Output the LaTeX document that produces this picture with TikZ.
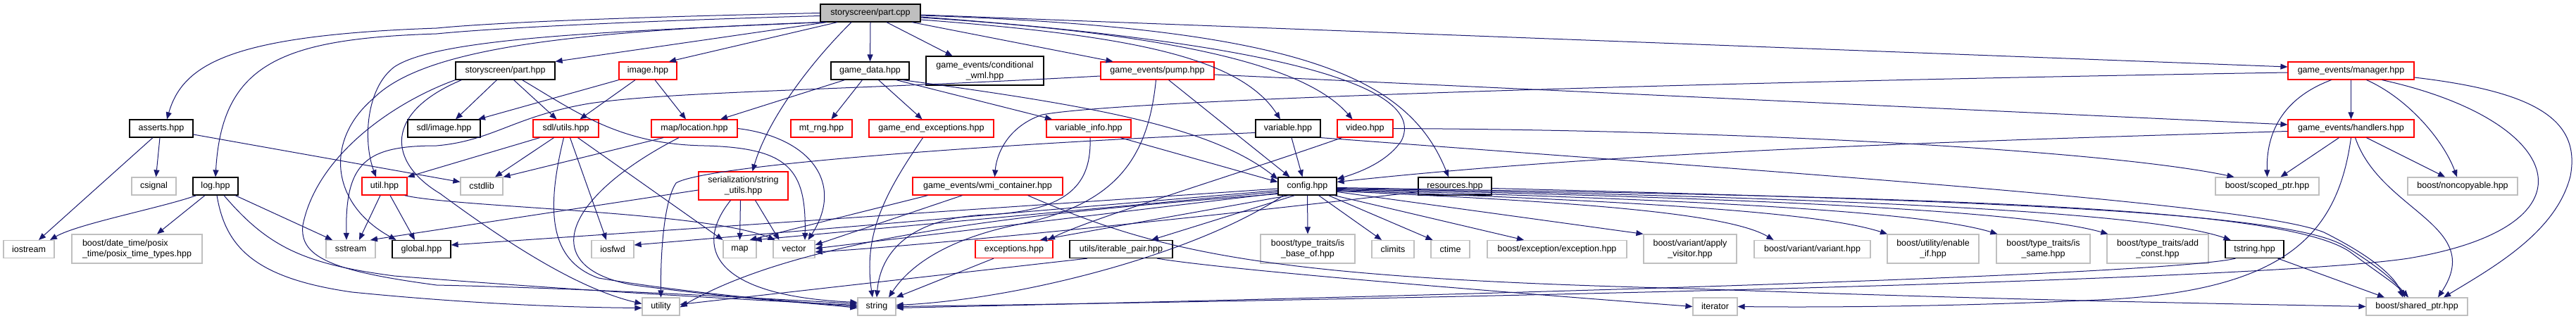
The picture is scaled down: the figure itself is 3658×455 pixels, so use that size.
\documentclass[tikz,border=0pt]{standalone}
\usepackage{fontspec}
\setmainfont{Liberation Sans}
\usetikzlibrary{arrows.meta}
\definecolor{edgec}{HTML}{191970}
\definecolor{nodegray}{HTML}{BFBFBF}
\begin{document}
\begin{tikzpicture}[x=1pt,y=-1pt,
  hbox/.style={rectangle, inner sep=0pt, minimum height=25pt, line width=1.2pt, font=\fontsize{12.5}{15}\selectfont, text=black},
  bk/.style={hbox, draw=black},
  rd/.style={hbox, draw=red},
  gy/.style={hbox, draw=nodegray},
  two/.style={minimum height=41pt, align=center},
  dep/.style={draw=edgec, line width=1pt, -{Triangle[length=10pt,width=8pt]}}
]
\fill[white] (0,0) rectangle (3658,455);
\useasboundingbox (0,0) rectangle (3658,455);

% row 0
\node[bk, fill=nodegray, minimum width=142pt] (root) at (1236,18.5) {storyscreen/part.cpp};
% row 1
\node[bk, minimum width=141pt] (sph) at (717.5,100.5) {storyscreen/part.hpp};
\node[rd, minimum width=82pt] (img) at (920,100.5) {image.hpp};
\node[bk, minimum width=111pt] (gd) at (1235.5,100.5) {game\_data.hpp};
\node[bk, two, minimum width=167pt] (cw) at (1398.5,100.5) {game\_events/conditional\\\_wml.hpp};
\node[rd, minimum width=161pt] (pump) at (1643.5,100.5) {game\_events/pump.hpp};
\node[rd, minimum width=179pt] (mgr) at (3338.5,100.5) {game\_events/manager.hpp};
% row 2
\node[bk, minimum width=90pt] (assets) at (229,182.5) {asserts.hpp};
\node[bk, minimum width=103pt] (sdlimg) at (630.5,182.5) {sdl/image.hpp};
\node[rd, minimum width=93pt] (sdlut) at (803.5,182.5) {sdl/utils.hpp};
\node[rd, minimum width=122pt] (loc) at (986,182.5) {map/location.hpp};
\node[rd, minimum width=87pt] (rng) at (1166.5,182.5) {mt\_rng.hpp};
\node[rd, minimum width=177pt] (gee) at (1322.5,182.5) {game\_end\_exceptions.hpp};
\node[rd, minimum width=120pt] (vinfo) at (1546,182.5) {variable\_info.hpp};
\node[bk, minimum width=92pt] (var) at (1829,182.5) {variable.hpp};
\node[rd, minimum width=79pt] (video) at (1938.5,182.5) {video.hpp};
\node[rd, minimum width=179pt] (hdl) at (3338.5,182.5) {game\_events/handlers.hpp};
% row 3
\node[gy, minimum width=63pt] (csignal) at (218.5,264.5) {csignal};
\node[bk, minimum width=64pt] (log) at (306,264.5) {log.hpp};
\node[rd, minimum width=64pt] (util) at (546,264.5) {util.hpp};
\node[gy, minimum width=60pt] (cstdlib) at (684,264.5) {cstdlib};
\node[rd, two, minimum width=127pt, minimum height=40pt] (su) at (1055.5,264) {serialization/string\\\_utils.hpp};
\node[rd, minimum width=213pt] (wmi) at (1402.5,264.5) {game\_events/wmi\_container.hpp};
\node[bk, minimum width=83pt] (config) at (1856.5,264.5) {config.hpp};
\node[bk, minimum width=104pt] (res) at (2066,264.5) {resources.hpp};
\node[gy, minimum width=147pt] (scoped) at (3219.5,264.5) {boost/scoped\_ptr.hpp};
\node[gy, minimum width=156pt] (noncopy) at (3497,264.5) {boost/noncopyable.hpp};
% row 4
\node[gy, minimum width=72pt] (iostream) at (41,354) {iostream};
\node[gy, minimum width=185pt, minimum height=41pt, align=left] (datetime) at (194.5,353.5) {boost/date\_time/posix\\\_time/posix\_time\_types.hpp};
\node[gy, minimum width=70pt] (sstream) at (498,354) {sstream};
\node[bk, minimum width=83pt] (global) at (598.5,354) {global.hpp};
\node[gy, minimum width=60pt] (iosfwd) at (870,354) {iosfwd};
\node[gy, minimum width=47pt] (map) at (1050.5,354) {map};
\node[gy, minimum width=59pt] (vector) at (1127.5,354) {vector};
\node[rd, minimum width=110pt] (exc) at (1440,354) {exceptions.hpp};
\node[bk, minimum width=146pt] (iter) at (1592,354) {utils/iterable\_pair.hpp};
\node[gy, two, minimum width=134pt] (isbase) at (1857,353.5) {boost/type\_traits/is\\\_base\_of.hpp};
\node[gy, minimum width=60pt] (climits) at (1978,354) {climits};
\node[gy, minimum width=55pt] (ctime) at (2059.5,354) {ctime};
\node[gy, minimum width=198pt] (bexc) at (2211,354) {boost/exception/exception.hpp};
\node[gy, two, minimum width=132pt] (apply) at (2400,353.5) {boost/variant/apply\\\_visitor.hpp};
\node[gy, minimum width=165pt] (variant) at (2573.5,354) {boost/variant/variant.hpp};
\node[gy, two, minimum width=130pt] (enable) at (2745,353.5) {boost/utility/enable\\\_if.hpp};
\node[gy, two, minimum width=133pt] (issame) at (2901.5,353.5) {boost/type\_traits/is\\\_same.hpp};
\node[gy, two, minimum width=144pt] (addconst) at (3064,353.5) {boost/type\_traits/add\\\_const.hpp};
\node[bk, minimum width=83pt] (tstring) at (3201.5,354) {tstring.hpp};
% row 5
\node[gy, minimum width=53pt] (utility) at (938.5,435.5) {utility};
\node[gy, minimum width=54pt] (string) at (1245,435.5) {string};
\node[gy, minimum width=63pt] (iterator) at (2435.5,435.5) {iterator};
\node[gy, minimum width=144pt] (shared) at (3432,435.5) {boost/shared\_ptr.hpp};

% root
\draw[dep] (root.west) .. controls (900,24) and (700,32) .. (620,40) .. controls (330,50) and (260,90) .. ([xshift=8pt]assets.north);
\draw[dep] ([yshift=-4pt]root.west) .. controls (900,30) and (700,40) .. (620,48) .. controls (400,55) and (315,90) .. (log.north);
\draw[dep] ([xshift=-66pt]root.south) .. controls (850,45) and (620,55) .. (560,95) .. controls (520,125) and (515,200) .. ([xshift=-12pt]util.north);
\draw[dep] (root.south west) .. controls (800,45) and (600,70) .. (530,140) .. controls (460,200) and (470,290) .. ([xshift=-36pt]global.north);
\draw[dep] ([xshift=-62pt]root.south) -- (sph.north east);
\draw[dep] ([xshift=-47pt]root.south) -- ([xshift=30pt]img.north);
\draw[dep] ([xshift=-27pt]root.south) .. controls (1150,90) and (1090,170) .. ([xshift=13pt]su.north);
\draw[dep] (root.south) -- (gd.north);
\draw[dep] ([xshift=23pt]root.south) -- ([xshift=-46pt]cw.north);
\draw[dep] ([xshift=59pt]root.south) -- ([xshift=-63pt]pump.north);
\draw[dep] ([yshift=-9.5pt]root.east) .. controls (1600,50) and (1760,80) .. ([xshift=-11pt]var.north);
\draw[dep] ([yshift=-6.5pt]root.east) .. controls (1700,50) and (1860,100) .. ([xshift=-18pt]video.north);
\draw[dep] ([yshift=-5.5pt]root.east) .. controls (1800,60) and (2030,120) .. (1990,200) .. controls (1970,230) and (1930,245) .. ([yshift=10pt]config.east);
\draw[dep] ([yshift=-3.5pt]root.east) .. controls (1850,40) and (2000,110) .. ([xshift=-9pt]res.north);
\draw[dep] ([yshift=-2.5pt]root.east) -- ([yshift=5.5pt]mgr.west);

% storyscreen/part.hpp
\draw[dep] ([xshift=-12pt]sph.south) -- ([xshift=16.5pt]sdlimg.north);
\draw[dep] ([xshift=12pt]sph.south) -- ([xshift=-13pt]sdlut.north);
\draw[dep] ([xshift=24pt]sph.south) .. controls (820,160) and (880,205) .. (1000,207) .. controls (1120,210) and (1145,240) .. ([xshift=15.5pt]vector.north);
\draw[dep] (sph.south west) .. controls (560,145) and (450,220) .. (430,320) .. controls (425,365) and (470,385) .. (620,405) .. controls (850,410) and (1100,425) .. ([yshift=4pt]string.west);
\draw[dep] ([xshift=-62pt]sph.south) .. controls (545,160) and (550,230) .. (625,275) .. controls (720,345) and (820,410) .. ([yshift=4pt]utility.west);

% image.hpp
\draw[dep] (img.south west) -- ([xshift=48.5pt]sdlimg.north);
\draw[dep] ([xshift=-18pt]img.south) -- ([xshift=20pt]sdlut.north);
\draw[dep] ([xshift=10pt]img.south) -- ([xshift=-12pt]loc.north);

% game_data.hpp
\draw[dep] ([xshift=-36pt]gd.south) -- ([xshift=37pt]loc.north);
\draw[dep] ([xshift=-11pt]gd.south) -- ([xshift=14pt]rng.north);
\draw[dep] ([xshift=12pt]gd.south) -- ([xshift=-13pt]gee.north);
\draw[dep] ([xshift=37pt]gd.south) -- ([xshift=-52pt]vinfo.north);
\draw[dep] ([xshift=46pt]gd.south) .. controls (1550,150) and (1720,180) .. ([yshift=10pt]config.west);

% pump.hpp
\draw[dep] ([yshift=-7.5pt]pump.west) .. controls (1200,128) and (950,130) .. (837,147) .. controls (730,165) and (700,200) .. (620,207) .. controls (520,207) and (490,230) .. ([xshift=-6pt]sstream.north);
\draw[dep] ([xshift=16pt]pump.south) -- ([xshift=-25pt]config.north);
\draw[dep] ([xshift=-2pt]pump.south) .. controls (1630,230) and (1580,290) .. (1450,318) .. controls (1340,340) and (1290,380) .. ([xshift=17pt]string.north);
\draw[dep] ([yshift=-5.5pt]pump.east) -- ([yshift=5.5pt]hdl.west);

% manager.hpp
\draw[dep] (mgr) -- (hdl);
\draw[dep] ([xshift=-28pt]mgr.south) .. controls (3240,140) and (3218,190) .. (scoped.north);
\draw[dep] ([xshift=22pt]mgr.south) .. controls (3420,140) and (3470,200) .. ([xshift=-8pt]noncopy.north);
\draw[dep] ([yshift=-9.5pt]mgr.east) .. controls (3600,130) and (3665,170) .. (3650,250) .. controls (3630,330) and (3540,380) .. ([xshift=38pt]shared.north);
\draw[dep] ([xshift=44pt]mgr.south) .. controls (3640,170) and (3700,320) .. (3420,367) .. controls (3200,400) and (2000,425) .. (string.east);
\draw[dep] ([yshift=-2.5pt]mgr.west) .. controls (2500,115) and (1600,140) .. (1480,163) .. controls (1430,180) and (1415,220) .. ([xshift=10pt]wmi.north);

% handlers.hpp
\draw[dep] ([yshift=-4pt]hdl.west) .. controls (2800,200) and (2300,215) .. ([yshift=6pt]config.east);
\draw[dep] ([xshift=-17pt]hdl.south) -- ([xshift=19pt]scoped.north);
\draw[dep] ([xshift=22pt]hdl.south) -- ([xshift=-25pt]noncopy.north);
\draw[dep] ([xshift=6pt]hdl.south) .. controls (3380,300) and (3530,320) .. ([xshift=30pt]shared.north);
\draw[dep] (hdl.south) .. controls (3320,330) and (3250,410) .. (3000,425) .. controls (2800,435) and (2600,437) .. (iterator.east);

% asserts.hpp
\draw[dep] ([xshift=-12pt]assets.south) -- ([xshift=14pt]iostream.north);
\draw[dep] ([xshift=-2pt]assets.south) -- ([xshift=3pt]csignal.north);
\draw[dep] ([yshift=-8.5pt]assets.east) -- ([yshift=6pt]cstdlib.west);

% log.hpp
\draw[dep] ([xshift=-27pt]log.south) .. controls (230,295) and (110,318) .. ([xshift=30pt]iostream.north);
\draw[dep] ([xshift=-15pt]log.south) -- ([xshift=28.5pt]datetime.north);
\draw[dep] ([xshift=28pt]log.south) -- ([xshift=-26pt]sstream.north);
\draw[dep] ([xshift=12pt]log.south) .. controls (380,350) and (430,375) .. (560,392) .. controls (850,415) and (1100,428) .. ([yshift=2pt]string.west);
\draw[dep] ([xshift=2pt]log.south) .. controls (320,350) and (360,395) .. (500,415) .. controls (700,435) and (850,437) .. ([yshift=-2pt]utility.west);

% util.hpp
\draw[dep] ([xshift=-6pt]util.south) -- ([xshift=12pt]sstream.north);
\draw[dep] ([xshift=8pt]util.south) -- ([xshift=-9.5pt]global.north);
\draw[dep] ([xshift=-4pt]util.south east) .. controls (650,295) and (1000,300) .. ([xshift=-27pt]vector.north);

% sdl/utils.hpp
\draw[dep] ([xshift=-37pt]sdlut.south) -- (util.north east);
\draw[dep] ([xshift=-17pt]sdlut.south) -- ([xshift=19pt]cstdlib.north);
\draw[dep] ([xshift=-3pt]sdlut.south) .. controls (775,300) and (780,370) .. (850,395) .. controls (1000,420) and (1150,430) .. (string.west);
\draw[dep] ([xshift=6pt]sdlut.south) -- ([xshift=-9pt]iosfwd.north);
\draw[dep] ([xshift=17pt]sdlut.south) -- (map.north west);

% map/location.hpp
\draw[dep] ([xshift=-44pt]loc.south) -- (cstdlib.north east);
\draw[dep] ([xshift=-22pt]loc.south) .. controls (800,280) and (760,380) .. (900,405) .. controls (1050,425) and (1150,430) .. ([yshift=-2pt]string.west);
\draw[dep] (loc.east) .. controls (1150,195) and (1200,260) .. ([xshift=20pt]vector.north);

% game_end_exceptions.hpp
\draw[dep] ([xshift=-12pt]gee.south) .. controls (1260,270) and (1225,330) .. ([xshift=-6pt]string.north);

% variable_info.hpp
\draw[dep] ([xshift=45pt]vinfo.south) -- ([yshift=6pt]config.west);
\draw[dep] ([xshift=2pt]vinfo.south) .. controls (1550,260) and (1520,300) .. (1400,305) .. controls (1290,310) and (1250,360) .. (string.north);

% variable.hpp
\draw[dep] ([xshift=5pt]var.south) -- ([xshift=-7pt]config.north);
\draw[dep] ([yshift=-6pt]var.west) .. controls (1400,205) and (1000,235) .. (960,260) .. controls (940,290) and (938,380) .. (utility.north);
\draw[dep] (var.south east) .. controls (2600,250) and (3200,290) .. (3300,330) .. controls (3360,360) and (3400,390) .. ([xshift=-20pt]shared.north);

% video.hpp
\draw[dep] ([xshift=-33pt]video.south) .. controls (1750,250) and (1550,310) .. ([xshift=48pt]exc.north);
\draw[dep] (video.east) .. controls (2500,185) and (3000,215) .. ([xshift=-47pt]scoped.north);

% serialization/string_utils.hpp
\draw[dep] ([yshift=-6pt]su.west) -- ([xshift=28pt]sstream.north);
\draw[dep] ([xshift=-4pt]su.south) -- (map.north);
\draw[dep] ([xshift=17pt]su.south) -- ([xshift=-21pt]vector.north);
\draw[dep] ([xshift=-18pt]su.south) .. controls (985,350) and (1010,420) .. ([yshift=6pt]string.west);

% wmi_container.hpp
\draw[dep] ([xshift=-85pt]wmi.south) -- ([xshift=-10pt]map.north east);
\draw[dep] ([xshift=-36pt]wmi.south) -- ([yshift=6pt]vector.east);
\draw[dep] ([xshift=57pt]wmi.south) .. controls (1650,360) and (1800,395) .. (2400,410) .. controls (2900,428) and (3200,432) .. (shared.west);

% config.hpp
\draw[dep] ([yshift=-3.5pt]config.west) -- ([yshift=6pt]global.east);
\draw[dep] ([yshift=-6pt]config.west) -- ([yshift=6pt]iosfwd.east);
\draw[dep] ([yshift=-8pt]config.west) -- ([xshift=-3pt]map.north east);
\draw[dep] ([yshift=-10pt]config.west) -- ([yshift=1pt]vector.east);
\draw[dep] ([yshift=-11pt]config.west) .. controls (1500,300) and (1150,330) .. ([yshift=-1pt]utility.east);
\draw[dep] ([xshift=-34pt]config.south) .. controls (1700,360) and (1450,425) .. ([yshift=2pt]string.east);
\draw[dep] ([xshift=-26pt]config.south) -- ([xshift=37pt]exc.north);
\draw[dep] ([xshift=-18pt]config.south) -- ([xshift=43pt]iter.north);
\draw[dep] (config.south) -- (isbase.north);
\draw[dep] ([xshift=16pt]config.south) -- ([xshift=-16pt]climits.north);
\draw[dep] ([xshift=30pt]config.south) -- ([xshift=-25pt]ctime.north);
\draw[dep] ([xshift=-4pt]config.south east) -- ([xshift=-47pt]bexc.north);
\draw[dep] ([yshift=-8pt]config.east) -- (apply.north west);
\draw[dep] ([yshift=-7pt]config.east) .. controls (2200,285) and (2450,300) .. ([xshift=-55pt]variant.north);
\draw[dep] ([yshift=-6pt]config.east) .. controls (2300,285) and (2580,300) .. ([xshift=-65pt]enable.north);
\draw[dep] ([yshift=-5pt]config.east) .. controls (2400,283) and (2730,300) .. ([xshift=2pt]issame.north west);
\draw[dep] ([yshift=-4pt]config.east) .. controls (2500,281) and (2880,300) .. ([xshift=2pt]addconst.north west);
\draw[dep] ([yshift=-3pt]config.east) .. controls (2600,280) and (3050,300) .. ([xshift=-34pt]tstring.north);
\draw[dep] ([yshift=-2pt]config.east) .. controls (2700,280) and (3250,290) .. (3340,360) .. controls (3380,390) and (3405,405) .. ([xshift=-17pt]shared.north);

% resources.hpp
\draw[dep] ([yshift=-8pt]res.west) .. controls (1700,310) and (1300,350) .. ([yshift=-4pt]vector.east);
\draw[dep] ([yshift=-3pt]res.east) .. controls (2800,285) and (3250,300) .. (3330,350) .. controls (3380,380) and (3400,400) .. ([xshift=-12pt]shared.north);

% exceptions.hpp
\draw[dep] ([xshift=-29pt]exc.south) -- (string.north east);

% utils/iterable_pair.hpp
\draw[dep] ([xshift=-48pt]iter.south) -- ([yshift=3pt]utility.east);
\draw[dep] ([xshift=51pt]iter.south) .. controls (1750,385) and (2200,420) .. (iterator.west);

% tstring.hpp
\draw[dep] ([xshift=-27pt]tstring.south) .. controls (3100,385) and (2500,410) .. ([yshift=-2pt]string.east);
\draw[dep] ([xshift=33pt]tstring.south) -- ([xshift=-46pt]shared.north);
\end{tikzpicture}
\end{document}
